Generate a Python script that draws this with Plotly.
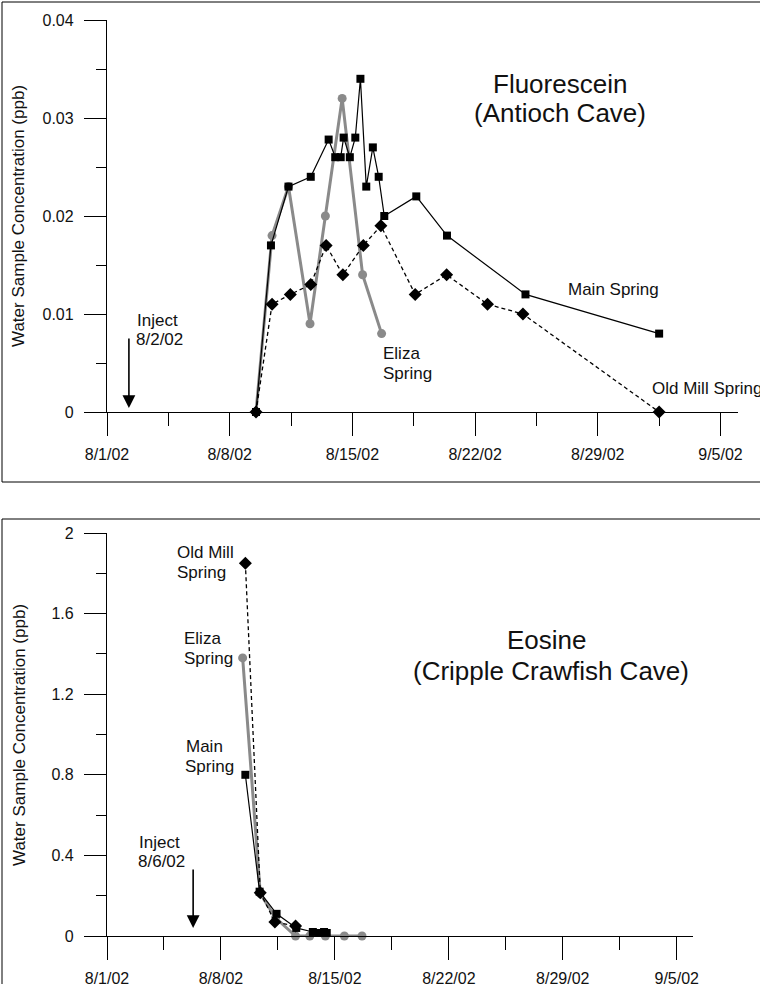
import plotly.graph_objects as go

W, H = 760, 984

# ---------------- Fluorescein (Antioch Cave) ----------------
fl_eliza_dates = ["2002-08-09 12:00", "2002-08-10 10:00", "2002-08-11 08:30", "2002-08-12 14:00",
                  "2002-08-13 11:00", "2002-08-14 10:00", "2002-08-15 14:00", "2002-08-16 16:00"]
fl_eliza_vals = [0, 0.018, 0.023, 0.009, 0.020, 0.032, 0.014, 0.008]

fl_oldmill_dates = ["2002-08-09 12:00", "2002-08-10 10:00", "2002-08-11 11:00", "2002-08-12 15:00",
                    "2002-08-13 12:00", "2002-08-14 11:00", "2002-08-15 15:00", "2002-08-16 15:00",
                    "2002-08-18 14:00", "2002-08-20 09:00", "2002-08-22 17:00", "2002-08-24 17:30",
                    "2002-09-01 12:00"]
fl_oldmill_vals = [0, 0.011, 0.012, 0.013, 0.017, 0.014, 0.017, 0.019, 0.012, 0.014, 0.011, 0.010, 0]

fl_main_dates = ["2002-08-09 12:00", "2002-08-10 08:30", "2002-08-11 08:30", "2002-08-12 15:00",
                 "2002-08-13 15:30", "2002-08-14 00:30", "2002-08-14 08:00", "2002-08-14 12:00",
                 "2002-08-14 20:30", "2002-08-15 04:00", "2002-08-15 11:00", "2002-08-15 19:00",
                 "2002-08-16 04:00", "2002-08-16 12:00", "2002-08-16 19:40", "2002-08-18 15:30",
                 "2002-08-20 09:30", "2002-08-24 21:00", "2002-09-01 12:00"]
fl_main_vals = [0, 0.017, 0.023, 0.024, 0.0278, 0.026, 0.026, 0.028, 0.026, 0.028, 0.034, 0.023,
                0.027, 0.024, 0.020, 0.022, 0.018, 0.012, 0.008]

# ---------------- Eosine (Cripple Crawfish Cave) ----------------
eo_eliza_dates = ["2002-08-09 08:00", "2002-08-10 10:00", "2002-08-11 08:30", "2002-08-12 14:00",
                  "2002-08-13 11:00", "2002-08-14 10:00", "2002-08-15 14:00", "2002-08-16 16:00"]
eo_eliza_vals = [1.38, 0.21, 0.09, 0, 0, 0, 0, 0]

eo_oldmill_dates = ["2002-08-09 12:00", "2002-08-10 10:00", "2002-08-11 07:30", "2002-08-12 14:00"]
eo_oldmill_vals = [1.85, 0.215, 0.07, 0.05]

eo_main_dates = ["2002-08-09 12:00", "2002-08-10 09:00", "2002-08-11 10:00", "2002-08-12 15:00",
                 "2002-08-13 15:30", "2002-08-14 00:30", "2002-08-14 08:00", "2002-08-14 12:00"]
eo_main_vals = [0.80, 0.22, 0.11, 0.04, 0.02, 0.015, 0.02, 0.015]

x_range = ["2002-08-01", "2002-09-06"]
fl_inject = "2002-08-02 06:00"
eo_inject = "2002-08-06 07:00"

FONT = "Liberation Sans, Arial, sans-serif"
TXT = "#111111"
GRAY = "#8a8a8a"
DAY = 86400000

fig = go.Figure()

def add_series(xs, ys, xa, ya, kind):
    if kind == "eliza":
        fig.add_trace(go.Scatter(x=xs, y=ys, xaxis=xa, yaxis=ya, mode="lines+markers",
                                 line=dict(color=GRAY, width=3),
                                 marker=dict(symbol="circle", size=9, color=GRAY),
                                 cliponaxis=False, showlegend=False))
    elif kind == "oldmill":
        fig.add_trace(go.Scatter(x=xs, y=ys, xaxis=xa, yaxis=ya, mode="lines+markers",
                                 line=dict(color="black", width=1.3, dash="4px,3px"),
                                 marker=dict(symbol="diamond", size=10, color="black"),
                                 cliponaxis=False, showlegend=False))
    else:
        fig.add_trace(go.Scatter(x=xs, y=ys, xaxis=xa, yaxis=ya, mode="lines+markers",
                                 line=dict(color="black", width=1.2),
                                 marker=dict(symbol="square", size=8, color="black"),
                                 cliponaxis=False, showlegend=False))

add_series(fl_eliza_dates, fl_eliza_vals, "x", "y", "eliza")
add_series(fl_oldmill_dates, fl_oldmill_vals, "x", "y", "oldmill")
add_series(fl_main_dates, fl_main_vals, "x", "y", "main")
add_series(eo_eliza_dates, eo_eliza_vals, "x2", "y2", "eliza")
add_series(eo_oldmill_dates, eo_oldmill_vals, "x2", "y2", "oldmill")
add_series(eo_main_dates, eo_main_vals, "x2", "y2", "main")

def xaxis_cfg(domain, anchor):
    return dict(domain=domain, anchor=anchor, type="date", range=x_range,
                tickmode="linear", tick0="2002-08-01", dtick=7 * DAY, tickformat="%-m/%-d/%y",
                ticks="outside", ticklen=23, tickwidth=1.3, tickcolor="black",
                minor=dict(ticks="outside", ticklen=13, tickwidth=1.3, tickcolor="black",
                           tick0="2002-08-01", dtick=3.5 * DAY),
                showline=True, linecolor="black", linewidth=1.3,
                showgrid=False, zeroline=False, automargin=False,
                ticklabelstandoff=5,
                tickfont=dict(family=FONT, size=16, color=TXT))

def yaxis_cfg(domain, anchor, rng, dtick):
    return dict(domain=domain, anchor=anchor, range=rng,
                tickmode="linear", tick0=0, dtick=dtick,
                ticks="outside", ticklen=22, tickwidth=1.3, tickcolor="black",
                minor=dict(ticks="outside", ticklen=10, tickwidth=1.3, tickcolor="black",
                           dtick=dtick / 2),
                showline=True, linecolor="black", linewidth=1.3,
                showgrid=False, zeroline=False, automargin=False,
                ticklabelstandoff=7,
                tickfont=dict(family=FONT, size=16, color=TXT))

fig.update_layout(
    width=W, height=H,
    margin=dict(l=0, r=0, t=0, b=0),
    paper_bgcolor="white", plot_bgcolor="white",
    showlegend=False,
    xaxis=xaxis_cfg([107 / W, 738 / W], "y"),
    yaxis=yaxis_cfg([1 - 412 / H, 1 - 20 / H], "x", [0, 0.04], 0.01),
    xaxis2=xaxis_cfg([107 / W, 693 / W], "y2"),
    yaxis2=yaxis_cfg([1 - 936 / H, 1 - 533 / H], "x2", [0, 2], 0.4),
)

annots = []

def label(text, x, y, size=17, xanchor="left"):
    annots.append(dict(text=text, xref="paper", yref="paper", x=x / W, y=1 - y / H,
                       xanchor=xanchor, yanchor="middle", showarrow=False,
                       font=dict(family=FONT, size=size, color=TXT)))

# top chart texts
label("Fluorescein", 560, 84, 26, "center")
label("(Antioch Cave)", 560, 113, 26, "center")
label("Main Spring", 566, 290)
label("Old Mill Spring", 650, 388)
label("Eliza", 381, 353)
label("Spring", 381, 373)
label("Inject", 135, 320)
label("8/2/02", 134, 339)

# bottom chart texts
label("Eosine", 547, 640, 26, "center")
label("(Cripple Crawfish Cave)", 551, 671, 26, "center")
label("Old Mill", 175, 552)
label("Spring", 175, 572)
label("Eliza", 182, 638)
label("Spring", 182, 658)
label("Main", 184, 746)
label("Spring", 183, 766)
label("Inject", 137, 842)
label("8/6/02", 136, 861)

# y axis titles
for yc in (216, 735):
    annots.append(dict(text="Water Sample Concentration (ppb)", xref="paper", yref="paper",
                       x=19 / W, y=1 - yc / H, xanchor="center", yanchor="middle",
                       textangle=-90, showarrow=False,
                       font=dict(family=FONT, size=17, color=TXT)))

# injection arrows
annots.append(dict(text="", x=fl_inject, y=0, xref="x", yref="y", ax=0, ay=-75,
                   showarrow=True, arrowhead=2, arrowsize=1.6, arrowwidth=1.6,
                   arrowcolor="black", standoff=4))
annots.append(dict(text="", x=eo_inject, y=0, xref="x2", yref="y2", ax=0, ay=-68,
                   showarrow=True, arrowhead=2, arrowsize=1.6, arrowwidth=1.6,
                   arrowcolor="black", standoff=8))

fig.update_layout(annotations=annots)

# frames around each panel
fig.add_shape(type="rect", xref="paper", yref="paper",
              x0=2 / W, x1=1.05, y0=1 - 482 / H, y1=1 - 2 / H,
              line=dict(color="black", width=1))
fig.add_shape(type="rect", xref="paper", yref="paper",
              x0=2 / W, x1=1.05, y0=-0.05, y1=1 - 519 / H,
              line=dict(color="black", width=1))

fig.write_html("out.html", config={"displayModeBar": False},
               post_script="document.body.style.margin='0';document.body.style.overflow='hidden';")
